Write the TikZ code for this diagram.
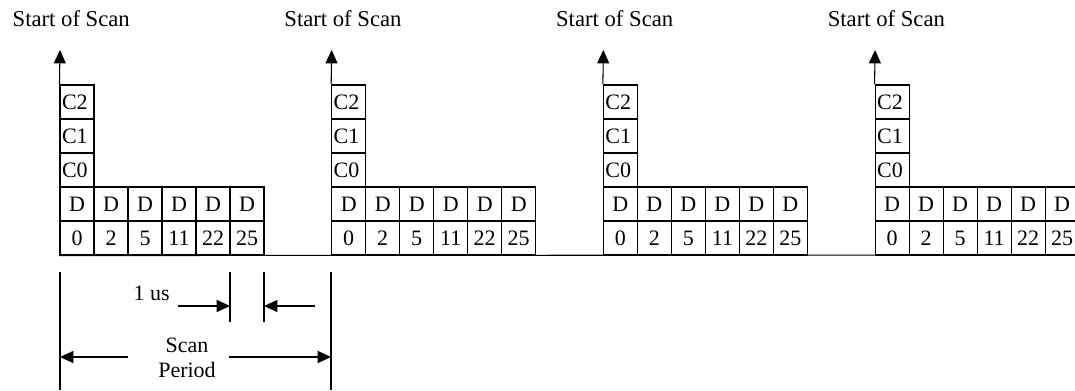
\documentclass[tikz,border=0pt]{standalone}
\usepackage{fontspec}
\setmainfont{Liberation Serif}
\usetikzlibrary{arrows.meta}
\tikzset{
	cell/.style={draw,line width=0.8pt,minimum width=25.5pt,minimum height=25.5pt,inner sep=0pt},
	ccell/.style={cell,text width=22.5pt,align=left,inner xsep=1.5pt},
	tip/.style={-{Triangle[length=10pt,width=9pt]},line width=0.8pt},
	thinline/.style={line width=0.8pt},
}
\begin{document}
\begin{tikzpicture}[x=0.75pt,y=-0.75pt,font=\fontsize{16.5}{18.75}\selectfont]
	\useasboundingbox (0,0) rectangle (1075,390);
	\clip (0,0) rectangle (1075,390);
	% four scans, one every 271.7 px
	\foreach \k in {0,1,2,3}{
		\pgfmathsetmacro{\xo}{60+271.7*\k}
		\node[anchor=base west,font=\fontsize{17}{20}\selectfont] (title\k) at (\xo-52,26) {Start of Scan};
		\foreach \v [count=\i from 0] in {0,2,5,11,22,25}{
			\node[cell] (n\k\i) at (\xo+17+34*\i,238) {\v};
			\node[cell] (d\k\i) at (\xo+17+34*\i,204) {D};
		}
		\foreach \c [count=\j from 0] in {C0,C1,C2}
			\node[ccell] (c\k\j) at (\xo+17,170-34*\j) {\c};
		\coordinate (top\k) at (\xo,50);
		\draw[tip] (c\k2.north west) -- (top\k);
	}
	\coordinate (bend) at (1075,255);
	\draw[thinline] (n00.south west) -- (bend);
	% time marks below the first scan
	\coordinate (p0t) at (60,272);
	\coordinate (p0b) at (60,390);
	\coordinate (p1t) at (331,272);
	\coordinate (p1b) at (331,390);
	\coordinate (u0t) at (230,272);
	\coordinate (u0b) at (230,322);
	\coordinate (u1t) at (264,272);
	\coordinate (u1b) at (264,322);
	\draw[thinline] (p0t) -- (p0b);
	\draw[thinline] (p1t) -- (p1b);
	\draw[thinline] (u0t) -- (u0b);
	\draw[thinline] (u1t) -- (u1b);
	\node[anchor=east,inner sep=0pt] (us) at (170,293) {1 us};
	\coordinate (ua) at (178,306);
	\coordinate (u0m) at (230,306);
	\coordinate (ub) at (315,306);
	\coordinate (u1m) at (264,306);
	\draw[tip] (ua) -- (u0m);
	\draw[tip] (ub) -- (u1m);
	\node[align=center,inner sep=0pt] (per) at (187,358) {Scan\\Period};
	\coordinate (sa) at (128,357);
	\coordinate (p0m) at (60,357);
	\coordinate (sb) at (229,357);
	\coordinate (p1m) at (331,357);
	\draw[tip] (sa) -- (p0m);
	\draw[tip] (sb) -- (p1m);
\end{tikzpicture}
\end{document}
